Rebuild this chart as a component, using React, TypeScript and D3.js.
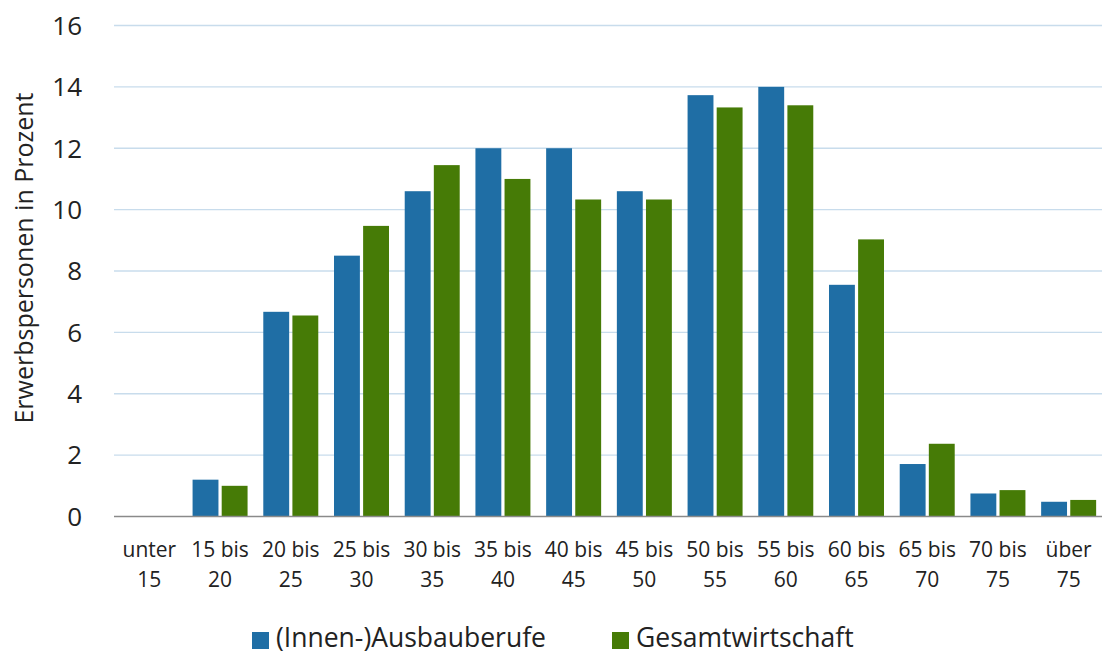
import * as d3 from "d3";
import * as React from "react";

// Altersgruppen und Anteile (in Prozent)
const categories = [
  ["unter", "15"],
  ["15 bis", "20"],
  ["20 bis", "25"],
  ["25 bis", "30"],
  ["30 bis", "35"],
  ["35 bis", "40"],
  ["40 bis", "45"],
  ["45 bis", "50"],
  ["50 bis", "55"],
  ["55 bis", "60"],
  ["60 bis", "65"],
  ["65 bis", "70"],
  ["70 bis", "75"],
  ["über", "75"],
];
const ausbau = [0, 1.2, 6.67, 8.5, 10.6, 12.0, 12.0, 10.6, 13.73, 14.0, 7.55, 1.71, 0.75, 0.48];
const gesamt = [0, 1.0, 6.55, 9.47, 11.45, 11.0, 10.33, 10.33, 13.33, 13.4, 9.03, 2.37, 0.86, 0.54];
const seriesNames = ["(Innen-)Ausbauberufe", "Gesamtwirtschaft"];
const seriesColors = ["#1f6ea5", "#467b06"];
const yTicks = [0, 2, 4, 6, 8, 10, 12, 14, 16];

const width = 1102;
const height = 657;
const font = "'Open Sans', 'Noto Sans', sans-serif";

export default function App() {
  const ref = React.useRef<SVGSVGElement>(null);

  React.useEffect(() => {
    const svg = d3.select(ref.current);
    svg.selectAll("*").remove();

    const x0 = d3
      .scaleBand()
      .domain(categories.map((d, i) => String(i)))
      .range([114, 1104])
      .paddingInner(0)
      .paddingOuter(0);

    const x1 = d3
      .scaleBand()
      .domain(seriesNames)
      .range([0, x0.bandwidth()])
      .paddingInner(0.111)
      .paddingOuter(0.27);

    const y = d3.scaleLinear().domain([0, 16]).range([516.5, 25.5]);

    // grid
    svg
      .append("g")
      .selectAll("line")
      .data(yTicks.filter(t => t > 0))
      .join("line")
      .attr("x1", 114)
      .attr("x2", width)
      .attr("y1", d => y(d))
      .attr("y2", d => y(d))
      .attr("stroke", "#c8dcec")
      .attr("stroke-width", 1.3);

    // y tick labels
    svg
      .append("g")
      .selectAll("text")
      .data(yTicks)
      .join("text")
      .attr("x", 82)
      .attr("y", d => y(d))
      .attr("dy", "0.36em")
      .attr("text-anchor", "end")
      .attr("font-family", font)
      .attr("font-size", 26)
      .attr("fill", "#222")
      .text(d => d);

    // bars
    const rows = categories.map((c, i) => ({ i, values: [ausbau[i], gesamt[i]] }));
    svg
      .append("g")
      .selectAll("g")
      .data(rows)
      .join("g")
      .attr("transform", d => `translate(${x0(String(d.i))},0)`)
      .selectAll("rect")
      .data(d => d.values.map((v, k) => ({ key: seriesNames[k], k, v })))
      .join("rect")
      .attr("x", d => x1(d.key)!)
      .attr("y", d => y(d.v))
      .attr("width", x1.bandwidth())
      .attr("height", d => y(0) - y(d.v))
      .attr("fill", d => seriesColors[d.k]);

    // x axis line
    svg
      .append("line")
      .attr("x1", 114)
      .attr("x2", width)
      .attr("y1", y(0))
      .attr("y2", y(0))
      .attr("stroke", "#8a8a8a")
      .attr("stroke-width", 1.3);

    // x labels
    const xl = svg
      .append("g")
      .selectAll("text")
      .data(categories)
      .join("text")
      .attr("text-anchor", "middle")
      .attr("font-family", font)
      .attr("font-size", 21)
      .attr("fill", "#222");
    xl.each(function (d, i) {
      const t = d3.select(this);
      const cx = x0(String(i))! + x0.bandwidth() / 2;
      t.append("tspan").attr("x", cx).attr("y", 557).text(d[0]);
      t.append("tspan").attr("x", cx).attr("y", 587).text(d[1]);
    });

    // y title
    svg
      .append("text")
      .attr("transform", "translate(33,258) rotate(-90)")
      .attr("text-anchor", "middle")
      .attr("font-family", font)
      .attr("font-size", 25)
      .attr("fill", "#222")
      .text("Erwerbspersonen in Prozent");

    // legend
    const legendX = [252, 612];
    const lg = svg
      .append("g")
      .selectAll("g")
      .data(seriesNames)
      .join("g")
      .attr("transform", (d, i) => `translate(${legendX[i]},0)`);
    lg.append("rect")
      .attr("x", 0)
      .attr("y", 632)
      .attr("width", 17)
      .attr("height", 17)
      .attr("fill", (d, i) => seriesColors[i]);
    lg.append("text")
      .attr("x", 24)
      .attr("y", 647)
      .attr("font-family", font)
      .attr("font-size", 26.5)
      .attr("fill", "#222")
      .text(d => d);
  }, []);

  return (
    <svg
      ref={ref}
      width={width}
      height={height}
      style={{ position: "absolute", left: 0, top: 0, background: "#fff" }}
    />
  );
}
